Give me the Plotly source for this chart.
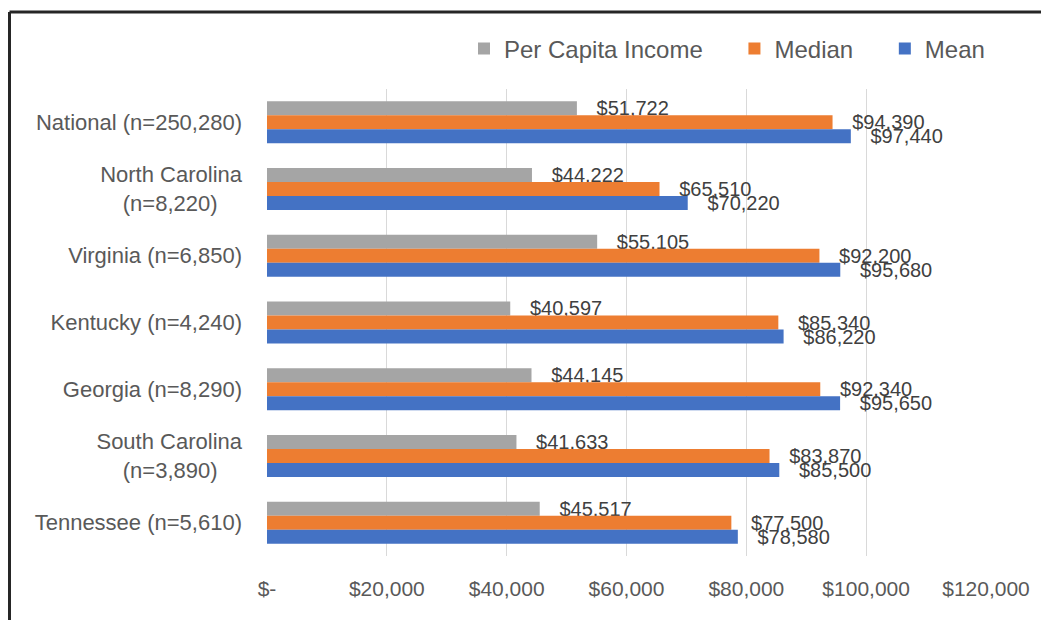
import plotly.graph_objects as go

categories = [
    "National (n=250,280)",
    "North Carolina<br>(n=8,220)\u00a0\u00a0\u00a0\u00a0",
    "Virginia (n=6,850)",
    "Kentucky (n=4,240)",
    "Georgia (n=8,290)",
    "South Carolina<br>(n=3,890)\u00a0\u00a0\u00a0\u00a0",
    "Tennessee (n=5,610)",
]
per_capita = [51722, 44222, 55105, 40597, 44145, 41633, 45517]
median = [94390, 65510, 92200, 85340, 92340, 83870, 77500]
mean = [97440, 70220, 95680, 86220, 95650, 85500, 78580]

series_names = ["Per Capita Income", "Median", "Mean"]
series_colors = ["#A5A5A5", "#ED7D31", "#4472C4"]
legend_pad = ["\u00a0\u00a0\u00a0\u00a0", "\u00a0\u00a0\u00a0\u00a0", ""]

tick_vals = [0, 20000, 40000, 60000, 80000, 100000, 120000]
tick_text = ["$-", "$20,000", "$40,000", "$60,000", "$80,000", "$100,000", "$120,000"]

# page body has an 8px margin; work in screen pixels and shift
OFF = 8
W_PX, H_PX = 1049 - OFF, 620 - OFF
L, R, T, B = 267 - OFF, 63, 89 - OFF, 64
PW, PH = W_PX - L - R, H_PX - T - B

def px_x(px):
    return (px - OFF - L) / PW

def px_y(py):
    return 1 - (py - OFF - T) / PH

FONT = "Liberation Sans, Arial, sans-serif"
TEXT_COLOR = "#595959"

fig = go.Figure()
for name, pad, vals, color in zip(series_names, legend_pad, [per_capita, median, mean], series_colors):
    fig.add_trace(go.Bar(
        y=categories,
        x=vals,
        name=name + pad,
        orientation="h",
        marker=dict(color=color, line=dict(width=0)),
        text=vals,
        texttemplate="\u00a0\u00a0\u00a0$%{x:,}",
        textposition="outside",
        textfont=dict(family=FONT, size=20, color="#404040"),
        constraintext="none",
        cliponaxis=False,
    ))

fig.update_layout(
    width=W_PX,
    height=H_PX,
    barmode="group",
    bargap=0.37,
    bargroupgap=0,
    paper_bgcolor="white",
    plot_bgcolor="white",
    margin=dict(l=L, r=R, t=T, b=B, autoexpand=False),
    font=dict(family=FONT, color=TEXT_COLOR),
    showlegend=True,
    legend=dict(
        orientation="h",
        x=px_x(990),
        xanchor="right",
        y=px_y(49),
        yanchor="middle",
        font=dict(family=FONT, size=24, color=TEXT_COLOR),
        bgcolor="rgba(0,0,0,0)",
        traceorder="normal",
    ),
    xaxis=dict(
        range=[0, 120000],
        tickvals=tick_vals,
        ticktext=tick_text,
        showgrid=True,
        gridcolor="#D9D9D9",
        gridwidth=1,
        zeroline=False,
        showline=False,
        ticks="",
        tickfont=dict(family=FONT, size=21, color=TEXT_COLOR),
        ticklabelstandoff=18,
    ),
    yaxis=dict(
        autorange="reversed",
        showgrid=False,
        zeroline=False,
        showline=False,
        ticks="",
        tickfont=dict(family=FONT, size=22, color=TEXT_COLOR),
        ticklabelstandoff=24,
    ),
    shapes=[
        dict(type="line", xref="paper", yref="paper",
             x0=px_x(9.5), x1=px_x(1060), y0=px_y(12), y1=px_y(12),
             line=dict(color="#262626", width=3)),
        dict(type="line", xref="paper", yref="paper",
             x0=px_x(9.5), x1=px_x(9.5), y0=px_y(12), y1=px_y(630),
             line=dict(color="#262626", width=3)),
    ],
)

fig.write_html("out.html")
